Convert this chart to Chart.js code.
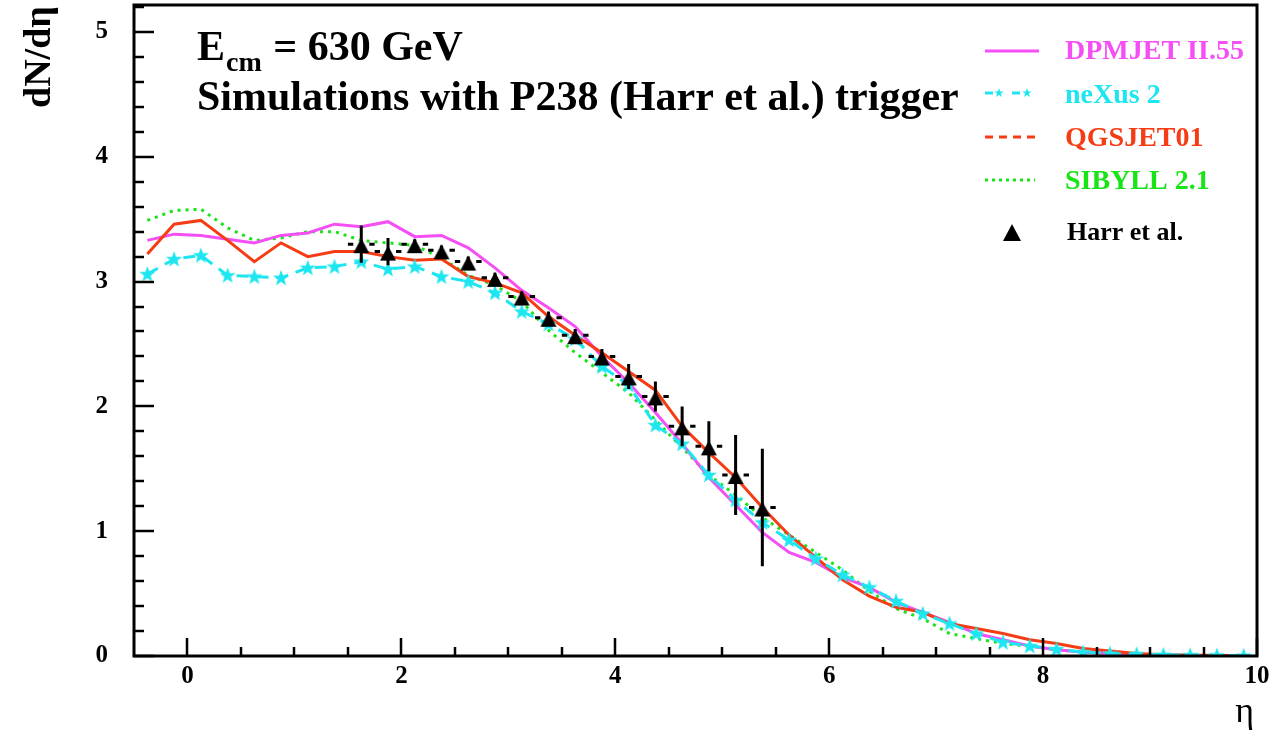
<!DOCTYPE html>
<html>
<head>
<meta charset="utf-8">
<script src="https://cdn.jsdelivr.net/npm/chart.js@4.4.1/dist/chart.umd.min.js"></script>
<style>
html, body { margin: 0; padding: 0; background: #fff; }
</style>
</head>
<body>
<canvas id="dndeta" width="1273" height="736"></canvas>
<script>
// bin centres in eta (bin width 0.25)
const etaBins = [-0.375, -0.125, 0.125, 0.375, 0.625, 0.875, 1.125, 1.375, 1.625, 1.875,
  2.125, 2.375, 2.625, 2.875, 3.125, 3.375, 3.625, 3.875, 4.125, 4.375,
  4.625, 4.875, 5.125, 5.375, 5.625, 5.875, 6.125, 6.375, 6.625, 6.875,
  7.125, 7.375, 7.625, 7.875, 8.125, 8.375, 8.625, 8.875, 9.125, 9.375,
  9.625, 9.875];

const dpmjet = [3.33, 3.38, 3.37, 3.34, 3.31, 3.37, 3.39, 3.46, 3.44, 3.48,
  3.36, 3.37, 3.27, 3.11, 2.93, 2.79, 2.64, 2.40, 2.19, 1.95,
  1.70, 1.43, 1.21, 0.99, 0.83, 0.75, 0.63, 0.55, 0.43, 0.35,
  0.27, 0.18, 0.13, 0.08, 0.05, 0.03, 0.02, 0.01, 0.01, 0.005,
  0.003, 0.002];

const nexus = [3.06, 3.18, 3.21, 3.05, 3.04, 3.03, 3.11, 3.12, 3.16, 3.10,
  3.12, 3.04, 3.00, 2.91, 2.76, 2.66, 2.54, 2.32, 2.17, 1.85,
  1.70, 1.45, 1.25, 1.07, 0.93, 0.78, 0.65, 0.55, 0.44, 0.34,
  0.26, 0.18, 0.11, 0.08, 0.055, 0.03, 0.02, 0.015, 0.01, 0.007,
  0.005, 0.003];

const qgsjet = [3.22, 3.46, 3.49, 3.33, 3.16, 3.31, 3.20, 3.24, 3.24, 3.20,
  3.17, 3.18, 3.04, 2.99, 2.91, 2.72, 2.57, 2.43, 2.28, 2.13,
  1.84, 1.63, 1.43, 1.19, 0.97, 0.79, 0.61, 0.48, 0.39, 0.35,
  0.26, 0.22, 0.18, 0.13, 0.10, 0.06, 0.04, 0.02, 0.01, 0.008,
  0.005, 0.003];

const sibyll = [3.49, 3.57, 3.58, 3.43, 3.33, 3.35, 3.40, 3.40, 3.33, 3.31,
  3.29, 3.19, 3.05, 2.97, 2.84, 2.61, 2.43, 2.27, 2.11, 1.89,
  1.67, 1.45, 1.29, 1.11, 0.97, 0.83, 0.69, 0.52, 0.38, 0.30,
  0.18, 0.14, 0.10, 0.08, 0.05, 0.03, 0.02, 0.01, 0.007, 0.005,
  0.003, 0.002];

// Harr et al. measurement
const harrEta = [1.625, 1.875, 2.125, 2.375, 2.625, 2.875, 3.125, 3.375,
  3.625, 3.875, 4.125, 4.375, 4.625, 4.875, 5.125, 5.375];
const harrVal = [3.30, 3.24, 3.30, 3.25, 3.16, 3.03, 2.88, 2.71,
  2.57, 2.40, 2.24, 2.08, 1.84, 1.68, 1.45, 1.19];
const harrErr = [0.15, 0.11, 0.04, 0.04, 0.04, 0.04, 0.04, 0.05,
  0.05, 0.06, 0.10, 0.12, 0.16, 0.20, 0.32, 0.47];
const harrHalfBin = 0.125;

const xTickValues = [0, 2, 4, 6, 8, 10];
const xTickLabels = ['0', '2', '4', '6', '8', '10'];
const yTickValues = [0, 1, 2, 3, 4, 5];
const yTickLabels = ['0', '1', '2', '3', '4', '5'];

const C_MAG = '#f54ef5';
const C_CYAN = '#1ee6f0';
const C_RED = '#f53c14';
const C_GREEN = '#18e418';
const SERIF = '"Liberation Serif", "Times New Roman", serif';

function toXY(xs, ys) {
  return xs.map((x, i) => ({x: x, y: ys[i]}));
}

function starShape(ctx, cx, cy, ro, ri) {
  ctx.beginPath();
  for (let k = 0; k < 10; k++) {
    const r = k % 2 === 0 ? ro : ri;
    const a = -Math.PI / 2 + k * Math.PI / 5;
    const px = cx + r * Math.cos(a), py = cy + r * Math.sin(a);
    if (k === 0) ctx.moveTo(px, py); else ctx.lineTo(px, py);
  }
  ctx.closePath();
}

// filled star marker for neXus
const starImg = document.createElement('canvas');
starImg.width = 18; starImg.height = 18;
(function () {
  const c = starImg.getContext('2d');
  c.fillStyle = C_CYAN;
  starShape(c, 9, 9.5, 8.5, 3.5);
  c.fill();
})();

// ROOT-like triangle marker, box-centred on the value
const triImg = document.createElement('canvas');
triImg.width = 18; triImg.height = 20;
(function () {
  const c = triImg.getContext('2d');
  c.fillStyle = '#000';
  c.beginPath();
  c.moveTo(9, 4); c.lineTo(17, 19); c.lineTo(1, 19); c.closePath();
  c.fill();
})();

const harrBars = {
  id: 'harrBars',
  afterDatasetsDraw(chart) {
    const ctx = chart.ctx, xs = chart.scales.x, ys = chart.scales.y;
    ctx.save();
    ctx.strokeStyle = '#000';
    ctx.lineWidth = 3;
    harrEta.forEach((e, i) => {
      const px = xs.getPixelForValue(e), py = ys.getPixelForValue(harrVal[i]);
      const yHi = ys.getPixelForValue(harrVal[i] + harrErr[i]);
      const yLo = ys.getPixelForValue(harrVal[i] - harrErr[i]);
      const xl = xs.getPixelForValue(e - harrHalfBin), xr = xs.getPixelForValue(e + harrHalfBin);
      ctx.beginPath();
      ctx.moveTo(px, yHi); ctx.lineTo(px, yLo);
      ctx.moveTo(xl, py); ctx.lineTo(px - 8, py);
      ctx.moveTo(px + 8, py); ctx.lineTo(xr, py);
      ctx.stroke();
    });
    ctx.restore();
  }
};

const frameText = {
  id: 'frameText',
  afterDraw(chart) {
    const ctx = chart.ctx, a = chart.chartArea, xs = chart.scales.x, ys = chart.scales.y;
    ctx.save();
    // frame
    ctx.strokeStyle = '#000';
    ctx.lineWidth = 3;
    ctx.strokeRect(a.left, a.top, a.right - a.left, a.bottom - a.top);
    // inward ticks
    ctx.lineWidth = 2.5;
    ctx.beginPath();
    for (let k = 0; k <= 26; k++) {
      const v = k * 0.2;
      const py = Math.round(ys.getPixelForValue(v));
      const len = k % 5 === 0 ? 20 : 10;
      ctx.moveTo(a.left, py); ctx.lineTo(a.left + len, py);
    }
    for (let k = 0; k <= 20; k++) {
      const v = k * 0.5;
      const px = Math.round(xs.getPixelForValue(v));
      const len = k % 4 === 0 ? 18 : 9;
      ctx.moveTo(px, a.bottom); ctx.lineTo(px, a.bottom - len);
    }
    ctx.stroke();

    // title
    ctx.fillStyle = '#000';
    ctx.textBaseline = 'alphabetic';
    ctx.textAlign = 'left';
    ctx.font = 'bold 42px ' + SERIF;
    ctx.fillText('E', 197, 60);
    const w = ctx.measureText('E').width;
    ctx.font = 'bold 28px ' + SERIF;
    ctx.fillText('cm', 197 + w + 1, 71);
    const w2 = ctx.measureText('cm').width;
    ctx.font = 'bold 42px ' + SERIF;
    ctx.fillText(' = 630 GeV', 197 + w + w2 + 2, 60);
    ctx.fillText('Simulations with P238 (Harr et al.) trigger', 197, 110);

    // axis titles
    ctx.save();
    ctx.translate(50, 108);
    ctx.rotate(-Math.PI / 2);
    ctx.font = 'bold 38px ' + SERIF;
    ctx.fillText('dN/d\u03b7', 0, 0);
    ctx.restore();
    ctx.font = '36px ' + SERIF;
    ctx.textAlign = 'right';
    ctx.fillText('\u03b7', 1254, 722);

    // legend
    ctx.textAlign = 'left';
    ctx.textBaseline = 'middle';
    const lx0 = 985, lx1 = 1039, tx = 1065;
    ctx.lineWidth = 3;
    // DPMJET
    ctx.strokeStyle = C_MAG;
    ctx.beginPath(); ctx.moveTo(lx0, 51); ctx.lineTo(lx1, 51); ctx.stroke();
    ctx.fillStyle = C_MAG;
    ctx.font = 'bold 28px ' + SERIF;
    ctx.fillText('DPMJET II.55', tx, 52);
    // neXus
    ctx.strokeStyle = C_CYAN;
    ctx.beginPath();
    ctx.moveTo(lx0, 93); ctx.lineTo(lx0 + 8, 93);
    ctx.moveTo(lx0 + 27, 93); ctx.lineTo(lx0 + 35, 93);
    ctx.stroke();
    ctx.fillStyle = C_CYAN;
    starShape(ctx, lx0 + 14, 93, 5, 2); ctx.fill();
    starShape(ctx, lx0 + 42, 93, 5, 2); ctx.fill();
    ctx.fillText('neXus 2', tx, 96);
    // QGSJET
    ctx.strokeStyle = C_RED;
    ctx.setLineDash([8, 6]);
    ctx.beginPath(); ctx.moveTo(lx0, 137); ctx.lineTo(lx0 + 50, 137); ctx.stroke();
    ctx.fillStyle = C_RED;
    ctx.fillText('QGSJET01', tx, 139);
    // SIBYLL
    ctx.strokeStyle = C_GREEN;
    ctx.setLineDash([3, 4]);
    ctx.beginPath(); ctx.moveTo(lx0, 180); ctx.lineTo(lx0 + 50, 180); ctx.stroke();
    ctx.setLineDash([]);
    ctx.fillStyle = C_GREEN;
    ctx.fillText('SIBYLL 2.1', tx, 182);
    // Harr
    ctx.fillStyle = '#000';
    ctx.beginPath();
    ctx.moveTo(1012, 224); ctx.lineTo(1021, 241); ctx.lineTo(1003, 241); ctx.closePath();
    ctx.fill();
    ctx.font = 'bold 26px ' + SERIF;
    ctx.fillText('Harr et al.', 1067, 233);
    ctx.restore();
  }
};

const tickFont = {family: SERIF, weight: 'bold', size: 25};

new Chart(document.getElementById('dndeta'), {
  type: 'line',
  data: {
    datasets: [
      {
        type: 'scatter',
        label: 'Harr et al.',
        data: toXY(harrEta, harrVal),
        pointStyle: triImg,
        pointRadius: 9,
        backgroundColor: '#000',
        borderColor: '#000',
        borderWidth: 0,
        showLine: false
      },
      {
        label: 'neXus 2',
        data: toXY(etaBins, nexus),
        borderColor: C_CYAN,
        borderWidth: 3,
        borderDash: [12, 8],
        pointStyle: starImg,
        pointRadius: 7,
        tension: 0
      },
      {
        label: 'QGSJET01',
        data: toXY(etaBins, qgsjet),
        borderColor: C_RED,
        borderWidth: 3,
        pointRadius: 0,
        tension: 0
      },
      {
        label: 'DPMJET II.55',
        data: toXY(etaBins, dpmjet),
        borderColor: C_MAG,
        borderWidth: 3,
        pointRadius: 0,
        tension: 0
      },
      {
        label: 'SIBYLL 2.1',
        data: toXY(etaBins, sibyll),
        borderColor: C_GREEN,
        borderWidth: 3,
        borderDash: [3, 5],
        pointRadius: 0,
        tension: 0
      }
    ]
  },
  options: {
    responsive: false,
    animation: false,
    layout: {autoPadding: false, padding: {top: 5, right: 16, left: 0, bottom: 0}},
    plugins: {legend: {display: false}, tooltip: {enabled: false}},
    scales: {
      x: {
        type: 'linear',
        min: -0.5,
        max: 10,
        afterFit(s) { s.height = 80; s.paddingLeft = 0; s.paddingRight = 0; },
        afterBuildTicks(s) { s.ticks = xTickValues.map(v => ({value: v})); },
        grid: {display: false, drawTicks: false},
        border: {display: false},
        ticks: {
          padding: 6, color: '#000', font: tickFont, maxRotation: 0, autoSkip: false,
          callback: (v, i) => xTickLabels[i]
        }
      },
      y: {
        type: 'linear',
        min: 0,
        max: 5.216,
        afterFit(s) { s.width = 134; s.paddingTop = 0; s.paddingBottom = 0; },
        afterBuildTicks(s) { s.ticks = yTickValues.map(v => ({value: v})); },
        grid: {display: false, drawTicks: false},
        border: {display: false},
        ticks: {
          padding: 26, color: '#000', font: tickFont, autoSkip: false,
          callback: (v, i) => yTickLabels[i]
        }
      }
    }
  },
  plugins: [harrBars, frameText]
});
</script>
</body>
</html>
